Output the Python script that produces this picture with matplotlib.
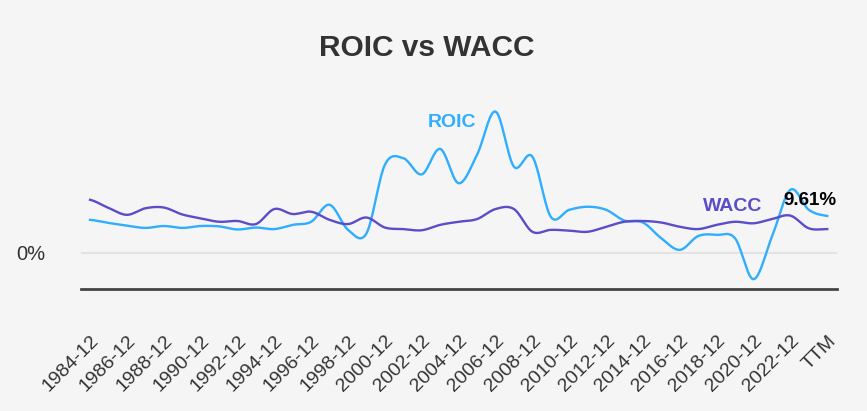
import numpy as np
import matplotlib
matplotlib.use('Agg')
import matplotlib.pyplot as plt

# periods: yearly 1984-12 .. 2023-12, then TTM
periods = ['%d-12' % y for y in range(1984, 2024)] + ['TTM']

# values in %
roic = [8.6, 7.8, 7.1, 6.5, 7.0, 6.5, 7.0, 6.9, 6.1, 6.6,
        6.2, 7.3, 8.1, 12.5, 6.0, 5.1, 22.9, 24.6, 20.4, 27.0,
        18.1, 25.5, 36.7, 22.4, 25.0, 9.4, 11.2, 12.0, 11.2, 8.4,
        7.9, 3.8, 0.8, 4.4, 4.7, 3.8, -6.8, 4.2, 16.4, 11.2,
        9.61]
wacc = [13.8, 11.7, 9.9, 11.6, 11.8, 10.0, 9.0, 8.1, 8.3, 7.5,
        11.4, 10.1, 10.7, 8.6, 7.5, 9.2, 6.6, 6.2, 5.9, 7.3,
        8.1, 8.8, 11.4, 11.4, 5.5, 6.0, 5.8, 5.5, 6.8, 8.1,
        8.3, 7.9, 6.8, 6.2, 7.3, 8.1, 7.7, 8.8, 9.7, 6.4,
        6.2]

ROIC_COLOR = '#2fadff'
WACC_COLOR = '#5b4cc8'
BG = '#f5f5f5'


def smooth(y, steps=20):
    # catmull-rom curve through the points, only for drawing
    y = np.asarray(y, dtype=float)
    p = np.concatenate([[y[0]], y, [y[-1]]])
    xs, ys = [], []
    for i in range(len(y) - 1):
        p0, p1, p2, p3 = p[i], p[i + 1], p[i + 2], p[i + 3]
        t = np.linspace(0, 1, steps, endpoint=False)
        v = 0.5 * ((2 * p1) + (-p0 + p2) * t + (2 * p0 - 5 * p1 + 4 * p2 - p3) * t ** 2
                   + (-p0 + 3 * p1 - 3 * p2 + p3) * t ** 3)
        xs.append(i + t)
        ys.append(v)
    xs.append([len(y) - 1])
    ys.append([y[-1]])
    return np.concatenate(xs), np.concatenate(ys)


plt.rcParams['font.family'] = ['Liberation Sans', 'DejaVu Sans']

fig = plt.figure(figsize=(8.67, 4.11), dpi=100, facecolor=BG)
ax = fig.add_axes([81 / 867, 122 / 411, 756 / 867, 189 / 411])
ax.set_facecolor(BG)

x = np.arange(len(periods))
sx, sy = smooth(roic)
ax.plot(sx, sy, color=ROIC_COLOR, lw=1.7, zorder=3)
sx, sy = smooth(wacc)
ax.plot(sx, sy, color=WACC_COLOR, lw=1.7, zorder=3)

ax.set_xlim(-0.49, 40.53)
ax.set_ylim(-9.35, 39.7)

# only the zero line is shown
ax.axhline(0, color='#e3e3e3', lw=1.5, zorder=1)
ax.set_yticks([0])
ax.set_yticklabels(['0%'], fontsize=14.5, color='#333333')
ax.tick_params(axis='y', length=0, pad=26)

ax.set_xticks(x[::2])
ax.set_xticklabels(periods[::2], rotation=45, ha='right', rotation_mode='anchor',
                   fontsize=14, color='#333333')
ax.tick_params(axis='x', length=0, pad=31)

for s in ['top', 'right', 'left']:
    ax.spines[s].set_visible(False)
ax.spines['bottom'].set_color('#444444')
ax.spines['bottom'].set_linewidth(2)

fig.text(427 / 867, 1 - 48 / 411, 'ROIC vs WACC', fontsize=21.5, fontweight='bold',
         color='#333333', ha='center', va='center')

# series labels
ax.annotate('ROIC', xy=(428, 411 - 127), xycoords='figure pixels', fontsize=14,
            fontweight='bold', color=ROIC_COLOR, ha='left', va='baseline')
ax.annotate('WACC', xy=(703, 411 - 210.7), xycoords='figure pixels', fontsize=14,
            fontweight='bold', color=WACC_COLOR, ha='left', va='baseline')
ax.annotate('%.2f%%' % roic[-1], xy=(783, 411 - 205), xycoords='figure pixels',
            fontsize=13.5, fontweight='bold', color='black', ha='left', va='baseline')

fig.savefig('out.png', dpi=100, facecolor=BG)
